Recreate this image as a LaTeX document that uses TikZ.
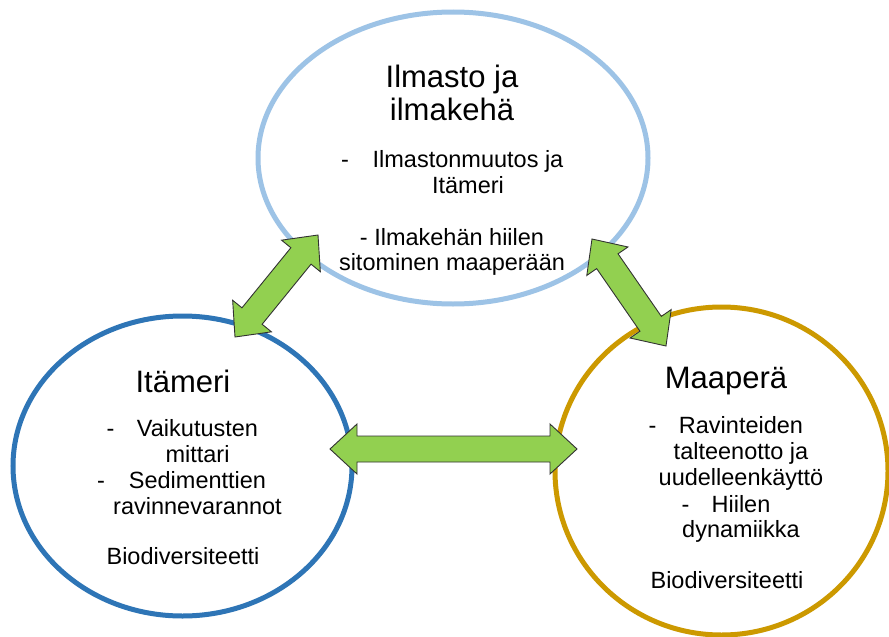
\documentclass[tikz,border=0pt]{standalone}
\usepackage{fontspec}
\setmainfont{Liberation Sans}
\usetikzlibrary{shapes.geometric,calc}
\definecolor{topblue}{RGB}{157,195,230}
\definecolor{leftblue}{RGB}{46,117,182}
\definecolor{gold}{RGB}{204,153,0}
\definecolor{agreen}{RGB}{146,208,80}
\definecolor{aline}{RGB}{50,50,50}
\tikzset{
  circ/.style={ellipse, draw, inner sep=0pt},
  title/.style={font=\fontsize{31}{33}\selectfont, anchor=base, inner sep=0pt},
  body/.style={font=\fontsize{23.5}{26}\selectfont, anchor=base, inner sep=0pt},
  blockarrow/.style={fill=agreen, draw=aline, line width=0.9pt, line join=miter},
}
% block double arrow between two named coordinates
\newcommand\dblarrow[2]{%
  \path[blockarrow]
    (#1)
    -- ($($(#1)!27pt!(#2)$)!25pt!90:(#2)$)
    -- ($($(#1)!27pt!(#2)$)!13pt!90:(#2)$)
    -- ($($(#2)!27pt!(#1)$)!13pt!-90:(#1)$)
    -- ($($(#2)!27pt!(#1)$)!25pt!-90:(#1)$)
    -- (#2)
    -- ($($(#2)!27pt!(#1)$)!25pt!90:(#1)$)
    -- ($($(#2)!27pt!(#1)$)!13pt!90:(#1)$)
    -- ($($(#1)!27pt!(#2)$)!13pt!-90:(#2)$)
    -- ($($(#1)!27pt!(#2)$)!25pt!-90:(#2)$)
    -- cycle;}
\begin{document}
\begin{tikzpicture}[x=1pt,y=-1pt]
\useasboundingbox (0,0) rectangle (889,637);
\fill[white] (0,0) rectangle (889,637);

% ellipses
\node[circ, draw=topblue, line width=5pt, minimum width=390pt, minimum height=292pt] (ilma) at (453,158) {};
\node[circ, draw=leftblue, line width=5pt, minimum width=339pt, minimum height=300pt] (itameri) at (182.5,466) {};
\node[circ, draw=gold, line width=5pt, minimum width=333pt, minimum height=328pt] (maapera) at (721.5,471) {};

% top texts
\node[title] (t1) at (452,87) {Ilmasto ja};
\node[title] (t2) at (452,120) {ilmakehä};
\node[body] (t3d) at (345,167) {-};
\node[body] (t3) at (468,167) {Ilmastonmuutos ja};
\node[body] (t4) at (468,193) {Itämeri};
\node[body] (t5) at (452,245) {- Ilmakehän hiilen};
\node[body] (t6) at (452,270) {sitominen maaperään};

% left texts
\node[title] (l1) at (183,392) {Itämeri};
\node[body] (l2d) at (110.5,436) {-};
\node[body] (l2) at (197.5,436) {Vaikutusten};
\node[body] (l3) at (197.5,462) {mittari};
\node[body] (l4d) at (101,488) {-};
\node[body] (l4) at (197.5,488) {Sedimenttien};
\node[body] (l5) at (197.5,514) {ravinnevarannot};
\node[body] (l6) at (183,564) {Biodiversiteetti};

% right texts
\node[title] (r1) at (726,388) {Maaperä};
\node[body] (r2d) at (652.5,433) {-};
\node[body] (r2) at (741,433) {Ravinteiden};
\node[body] (r3) at (741,459) {talteenotto ja};
\node[body] (r4) at (741,485) {uudelleenkäyttö};
\node[body] (r5d) at (685.5,512) {-};
\node[body] (r5) at (741,512) {Hiilen};
\node[body] (r6) at (741,537) {dynamiikka};
\node[body] (r7) at (727,588) {Biodiversiteetti};

% arrow end points
\coordinate (a1) at (318,235);
\coordinate (a2) at (235,337);
\coordinate (b1) at (330,449);
\coordinate (b2) at (577,449);
\coordinate (c1) at (592,239);
\coordinate (c2) at (666,346);

\dblarrow{a1}{a2}
\dblarrow{b1}{b2}
\dblarrow{c1}{c2}
\end{tikzpicture}
\end{document}
